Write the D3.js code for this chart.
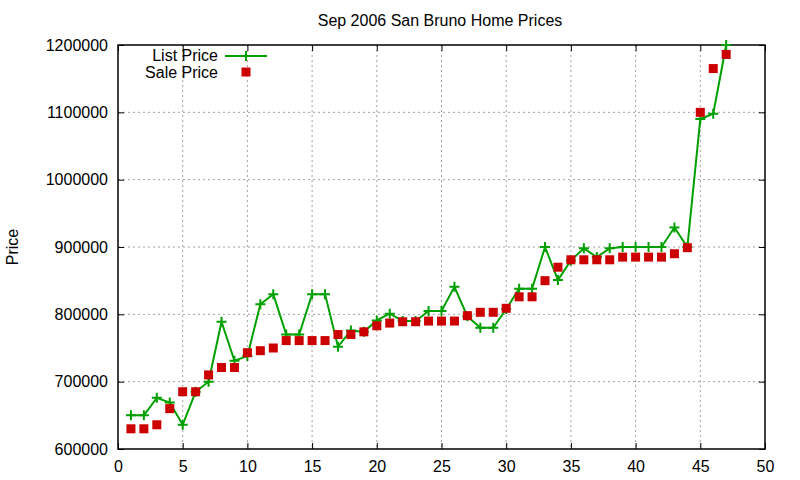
<!DOCTYPE html>
<html>
<head>
<meta charset="utf-8">
<script src="https://cdn.jsdelivr.net/npm/d3@7"></script>
<style>
  body { margin: 0; background: #fff; }
  svg { font-family: "Liberation Sans", Arial, sans-serif; }
</style>
</head>
<body>
<div id="chart"></div>
<script>
// house index (1..47)
var houses = d3.range(1, 48);

var listPrice = [650000, 650000, 676000, 669000, 636000, 685000, 700000, 789000, 731000, 738000,
  815000, 830000, 770000, 770000, 830000, 830000, 752000, 776000, 774000, 791000,
  801000, 790000, 790000, 805000, 805000, 841000, 797000, 780000, 780000, 808000,
  838000, 838000, 900000, 851000, 880000, 898000, 885000, 898000, 900000, 900000,
  900000, 900000, 929000, 900000, 1090000, 1098000, 1200000];

var salePrice = [630000, 630000, 636000, 660000, 685000, 685000, 710000, 721000, 721000, 743000,
  746000, 750000, 761000, 761000, 761000, 761000, 770000, 770000, 774000, 783000,
  787000, 789000, 789000, 790000, 790000, 790000, 798000, 803000, 803000, 809000,
  826000, 826000, 850000, 870000, 881000, 881000, 881000, 881000, 885000, 885000,
  885000, 885000, 890000, 899000, 1100000, 1165000, 1186000];

var xTicks = [0, 5, 10, 15, 20, 25, 30, 35, 40, 45, 50];
var yTicks = [600000, 700000, 800000, 900000, 1000000, 1100000, 1200000];

var title = "Sep 2006 San Bruno Home Prices";
var seriesNames = ["List Price", "Sale Price"];

var W = 800, H = 480;
var margin = {top: 45, right: 35, bottom: 31, left: 118};
var width = W - margin.left - margin.right,
    height = H - margin.top - margin.bottom;

var svg = d3.select("#chart").append("svg")
  .attr("width", W)
  .attr("height", H);

var g = svg.append("g")
  .attr("transform", "translate(" + margin.left + "," + margin.top + ")");

var x = d3.scaleLinear().domain([0, 50]).range([0, width]);
var y = d3.scaleLinear().domain([600000, 1200000]).range([height, 0]);

// grid
g.append("g")
  .selectAll("line")
  .data(xTicks.slice(1, -1))
  .enter().append("line")
  .attr("x1", function(d) { return x(d); })
  .attr("x2", function(d) { return x(d); })
  .attr("y1", 0).attr("y2", height)
  .attr("stroke", "#a0a0a0")
  .attr("stroke-dasharray", "2,3");

g.append("g")
  .selectAll("line")
  .data(yTicks.slice(1, -1))
  .enter().append("line")
  .attr("y1", function(d) { return y(d); })
  .attr("y2", function(d) { return y(d); })
  .attr("x1", 0).attr("x2", width)
  .attr("stroke", "#a0a0a0")
  .attr("stroke-dasharray", "2,3");

// axes (ticks inside, mirrored)
var xb = g.append("g")
  .attr("transform", "translate(0," + height + ")")
  .call(d3.axisBottom(x).tickValues(xTicks).tickSizeInner(-6).tickSizeOuter(0).tickPadding(12));
var xt = g.append("g")
  .call(d3.axisTop(x).tickValues(xTicks).tickSizeInner(-6).tickSizeOuter(0).tickFormat(""));
var yl = g.append("g")
  .call(d3.axisLeft(y).tickValues(yTicks).tickSizeInner(-6).tickSizeOuter(0).tickPadding(10).tickFormat(d3.format("d")));
var yr = g.append("g")
  .attr("transform", "translate(" + width + ",0)")
  .call(d3.axisRight(y).tickValues(yTicks).tickSizeInner(-6).tickSizeOuter(0).tickFormat(""));

[xb, xt, yl, yr].forEach(function(a) {
  a.select(".domain").remove();
  a.selectAll("line").attr("stroke", "#000");
  a.selectAll("text").attr("font-size", 16).attr("fill", "#000")
    .attr("font-family", "Liberation Sans, Arial, sans-serif");
});

g.append("rect")
  .attr("width", width).attr("height", height)
  .attr("fill", "none").attr("stroke", "#000").attr("stroke-width", 1.5);

// list price line
var green = "#00a000", red = "#cc0000";
var line = d3.line()
  .x(function(d, i) { return x(houses[i]); })
  .y(function(d) { return y(d); });

g.append("path")
  .datum(listPrice)
  .attr("fill", "none")
  .attr("stroke", green)
  .attr("stroke-width", 2)
  .attr("d", line);

function plus(sel, cx, cy) {
  sel.append("path")
    .attr("d", "M" + (cx - 5) + "," + cy + "H" + (cx + 5) + "M" + cx + "," + (cy - 5) + "V" + (cy + 5))
    .attr("stroke", green).attr("stroke-width", 2);
}

var pg = g.append("g");
listPrice.forEach(function(d, i) { plus(pg, x(houses[i]), y(d)); });

// sale price squares
g.append("g")
  .selectAll("rect")
  .data(salePrice)
  .enter().append("rect")
  .attr("x", function(d, i) { return x(houses[i]) - 4.5; })
  .attr("y", function(d) { return y(d) - 4.5; })
  .attr("width", 9).attr("height", 9)
  .attr("fill", red);

// legend
var lg = svg.append("g");
lg.append("text").attr("x", 218).attr("y", 61).attr("text-anchor", "end")
  .attr("font-size", 16).text(seriesNames[0]);
lg.append("text").attr("x", 218).attr("y", 78).attr("text-anchor", "end")
  .attr("font-size", 16).text(seriesNames[1]);
lg.append("line").attr("x1", 225).attr("x2", 267).attr("y1", 56).attr("y2", 56)
  .attr("stroke", green).attr("stroke-width", 2);
plus(lg, 246, 56);
lg.append("rect").attr("x", 241.5).attr("y", 67.5).attr("width", 9).attr("height", 9).attr("fill", red);

// title + y label
svg.append("text").attr("x", 440).attr("y", 26).attr("text-anchor", "middle")
  .attr("font-size", 16).text(title);
svg.append("text").attr("transform", "translate(18,247) rotate(-90)")
  .attr("text-anchor", "middle").attr("font-size", 16).text("Price");
</script>
</body>
</html>
